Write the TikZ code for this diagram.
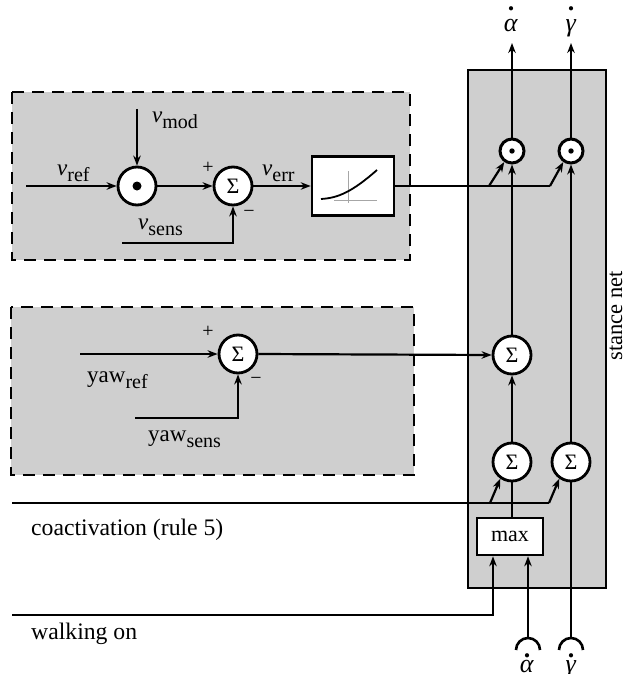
\documentclass[tikz,border=0pt]{standalone}
\usepackage{fontspec}
\setmainfont{Liberation Serif}
\usetikzlibrary{arrows.meta}
\definecolor{bg}{RGB}{207,207,207}
\newcommand\subtxt[1]{\raisebox{-6pt}{\fontsize{20}{20}\selectfont #1}}
\newcommand\dotover[2]{\ooalign{\hfil\raisebox{#1}{\textbf{.}}\hfil\cr\textit{#2}\cr}}
\begin{document}
\begin{tikzpicture}[x=1pt,y=-1pt,
  ln/.style={line width=2.2pt},
  arr/.style={ln,-{Stealth[length=10pt,width=7.5pt]}},
  sumc/.style={circle,draw,fill=white,line width=2.8pt,minimum size=38pt,inner sep=0pt,font=\fontsize{22}{22}\selectfont},
  mulbig/.style={circle,draw,fill=white,line width=2.8pt,minimum size=38pt,inner sep=0pt},
  mulsm/.style={circle,draw,fill=white,line width=3pt,minimum size=24pt,inner sep=0pt},
  lab/.style={inner sep=0pt,font=\fontsize{23}{23}\selectfont},
  pm/.style={inner sep=0pt,font=\fontsize{20}{20}\selectfont},
  greek/.style={inner sep=0pt,font=\fontsize{26}{26}\selectfont},
  dashbox/.style={draw,fill=bg,line width=2.8pt,dash pattern=on 12pt off 8pt},
  boxn/.style={draw,fill=white,line width=2.6pt,inner sep=0pt},
]
\useasboundingbox (0,0) rectangle (626,674);

% backgrounds
\draw[dashbox] (12,92) rectangle (410,260);
\draw[dashbox] (11,307) rectangle (414,475);
\draw[fill=bg,line width=2.6pt] (468,70) rectangle (606,588);

% ---- speed block ----
\node[mulbig] (dm) at (137,186) {};
\fill (dm) circle (4.5);
\node[sumc] (s1) at (233,186) {Σ};
\node[boxn,minimum width=82pt,minimum height=59pt] (cb) at (353,186) {};
\draw[gray!70,line width=0.8pt] (348,171) -- (348,203);
\draw[gray!70,line width=0.8pt] (334,200) -- (377,200);
\draw[line width=1.8pt] (321,199) .. controls (338,198) and (352,192) .. (377,170);

\coordinate (vr0) at (26,186);
\coordinate (vm0) at (137,109);
\coordinate (vs0) at (122,243);
\draw[arr] (vr0) -- (dm.west);
\draw[arr] (vm0) -- (dm.north);
\draw[arr] (dm.east) -- (s1.west);
\draw[arr] (vs0) -| (s1.south);
\draw[arr] (s1.east) -- (cb.west);

\node[lab,anchor=base west] (lvr) at (57,175) {\textit{v}\subtxt{ref}};
\node[lab,anchor=base west] (lvm) at (152,122) {\textit{v}\subtxt{mod}};
\node[lab,anchor=base west] (lve) at (262,175) {\textit{v}\subtxt{err}};
\node[lab,anchor=base west] (lvs) at (138,229) {\textit{v}\subtxt{sens}};
\node[pm] (p1) at (208,168) {+};
\node[pm] (m1) at (249,214) {−};

% ---- yaw block ----
\node[sumc] (s2) at (238,354) {Σ};
\coordinate (y0) at (80,354);
\coordinate (ys0) at (135,418);
\draw[arr] (y0) -- (s2.west);
\draw[arr] (ys0) -| (s2.south);
\node[lab,anchor=base west] (lyr) at (87,382) {yaw\subtxt{ref}};
\node[lab,anchor=base west] (lys) at (148,441) {yaw\subtxt{sens}};
\node[pm] (p2) at (208,332) {+};
\node[pm] (m2) at (256,381) {−};

% ---- stance net ----
\node[mulsm] (pa) at (512,151) {};
\fill (pa) circle (2.7);
\node[mulsm] (pg) at (571,151) {};
\fill (pg) circle (2.7);
\node[sumc] (sm) at (512,355) {Σ};
\node[sumc] (sa) at (512,462) {Σ};
\node[sumc] (sg) at (571,462) {Σ};
\node[boxn,minimum width=66pt,minimum height=37pt,font=\fontsize{22}{22}\selectfont] (mx) at (510,536.5) {max};
\node[lab,rotate=90,anchor=base,font=\fontsize{22.5}{23}\selectfont] (stn) at (622,316) {stance net};

\coordinate (oa) at (512,43);
\coordinate (og) at (571,43);
\draw[arr] (pa.north) -- (oa);
\draw[arr] (pg.north) -- (og);
\node[greek,anchor=base] (loa) at (511,32) {\dotover{21pt}{α}};
\node[greek,anchor=base] (log) at (571,32) {\dotover{21pt}{γ}};

% speed output to multipliers
\coordinate (f1) at (489,186);
\coordinate (f2) at (550,186);
\draw[ln] (cb.east) -- (f2);
\draw[arr] (f1) -- (pa.235);
\draw[arr] (f2) -- (pg.235);

% yaw to stance sum
\draw[arr] (s2.east) -- (sm.west);

% verticals
\draw[arr] (sm.north) -- (pa.south);
\draw[arr] (sa.north) -- (sm.south);
\draw[arr] (sg.north) -- (pg.south);
\draw[ln] (mx.north -| sa) -- (sa.south);

% coactivation
\coordinate (c0) at (12,503);
\coordinate (c1) at (490,503);
\coordinate (c2) at (549,503);
\draw[ln] (c0) -- (c2);
\draw[arr] (c1) -- (sa.235);
\draw[arr] (c2) -- (sg.235);
\node[lab,anchor=base west,font=\fontsize{23.7}{24}\selectfont] (lco) at (31,535) {coactivation (rule 5)};

% walking on
\coordinate (w0) at (12,615);
\coordinate (w1) at (493,615);
\draw[arr] (w0) -- (w1) -- (w1 |- mx.south);
\node[lab,anchor=base west,font=\fontsize{23.7}{24}\selectfont] (lwo) at (31,639) {walking on};

% bottom inputs
\coordinate (ina) at (528,638);
\coordinate (ing) at (571,638);
\draw[line width=2.6pt] (516,650) arc[start angle=180,end angle=360,radius=12];
\draw[line width=2.6pt] (559,650) arc[start angle=180,end angle=360,radius=12];
\draw[arr] (ina) -- (ina |- mx.south);
\draw[ln] (ing) -- (sg.south);
\node[greek,anchor=base] (lia) at (527,672) {\dotover{15pt}{α}};
\node[greek,anchor=base] (lig) at (571,672) {\dotover{15pt}{γ}};
\end{tikzpicture}
\end{document}
